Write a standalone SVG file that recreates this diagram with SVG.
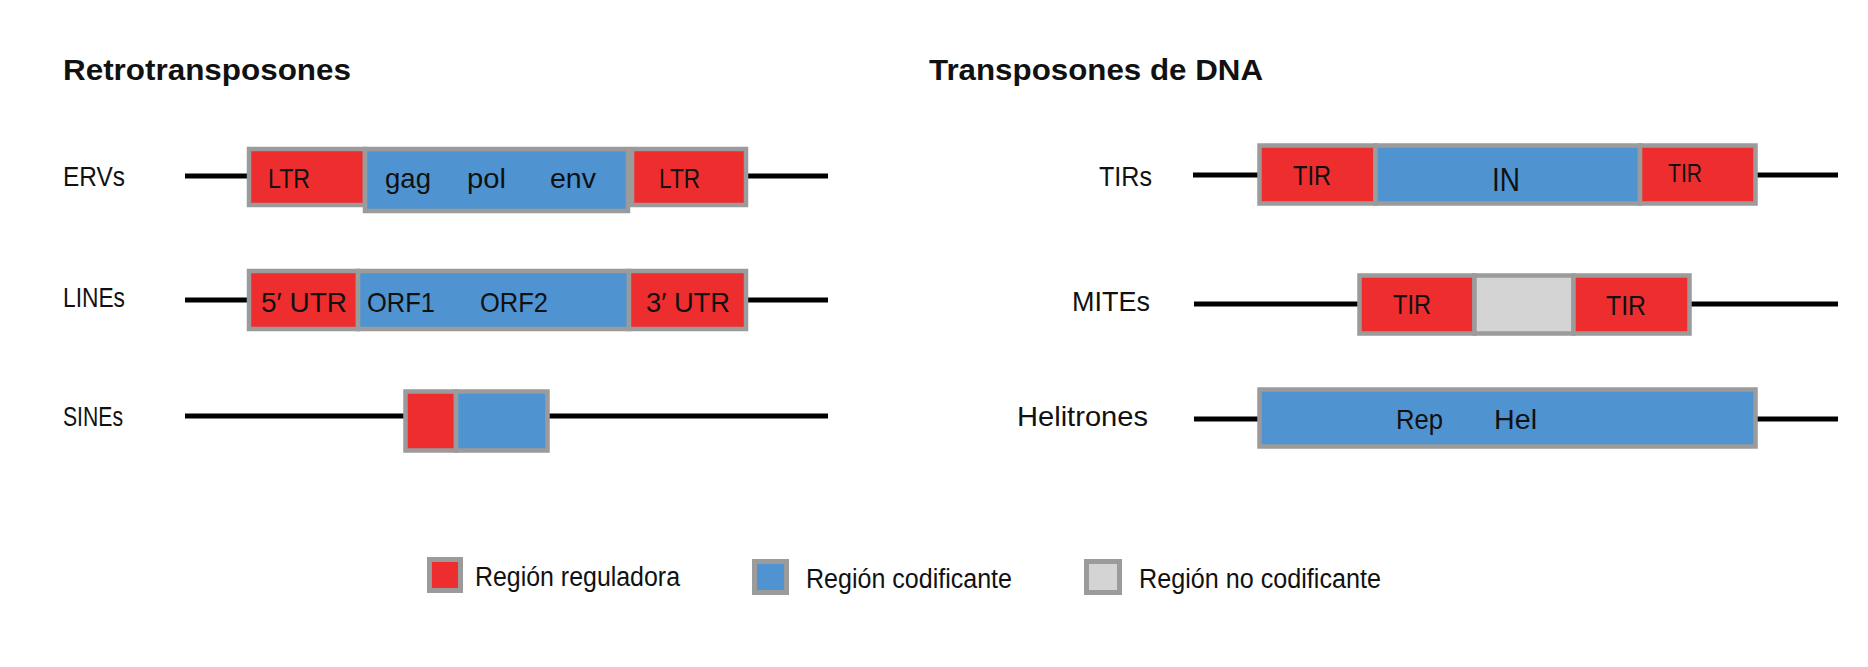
<svg xmlns="http://www.w3.org/2000/svg" width="1868" height="667" viewBox="0 0 1868 667">
<style>
  .bg{fill:#ffffff}
  .t{font-family:"Liberation Sans",Arial,sans-serif;fill:#111111}
  .title{font-size:29px;font-weight:bold}
  .lab{font-size:28px}
  .in{font-size:28px}
  .leg{font-size:27px}
  .reg{fill:#EE2D2E;stroke:#9B9B9B;stroke-width:4.5}
  .cod{fill:#4F94D0;stroke:#9B9B9B;stroke-width:4.5}
  .nc{fill:#D4D4D4;stroke:#9B9B9B;stroke-width:4.5}
  .sw{stroke-width:5}
  .dna{stroke:#000000;stroke-width:5;fill:none}
</style>
<rect class="bg" x="0" y="0" width="1868" height="667"/>

<g id="titles">
  <text class="t title" x="63" y="80" textLength="288" lengthAdjust="spacingAndGlyphs">Retrotransposones</text>
  <text class="t title" x="929" y="80" textLength="334" lengthAdjust="spacingAndGlyphs">Transposones de DNA</text>
</g>

<g id="connectors">
  <line class="dna" x1="185" y1="176" x2="828" y2="176"/>
  <line class="dna" x1="185" y1="300" x2="828" y2="300"/>
  <line class="dna" x1="185" y1="416" x2="828" y2="416"/>
  <line class="dna" x1="1193" y1="175" x2="1838" y2="175"/>
  <line class="dna" x1="1194" y1="304" x2="1838" y2="304"/>
  <line class="dna" x1="1194" y1="419" x2="1838" y2="419"/>
</g>

<g id="ERVs">
  <text class="t lab" x="63" y="186" textLength="62" lengthAdjust="spacingAndGlyphs">ERVs</text>
  <rect class="reg" x="249" y="149" width="116" height="56"/>
  <rect class="reg" x="632" y="149" width="114" height="56"/>
  <rect class="cod" x="365" y="149" width="263" height="62"/>
  <text class="t in" x="268" y="188" textLength="42" lengthAdjust="spacingAndGlyphs">LTR</text>
  <text class="t in" x="385" y="188" textLength="46" lengthAdjust="spacingAndGlyphs">gag</text>
  <text class="t in" x="467" y="188" textLength="39" lengthAdjust="spacingAndGlyphs">pol</text>
  <text class="t in" x="550" y="188" textLength="46" lengthAdjust="spacingAndGlyphs">env</text>
  <text class="t in" x="659" y="188" textLength="41" lengthAdjust="spacingAndGlyphs">LTR</text>
</g>

<g id="LINEs">
  <text class="t lab" x="63" y="307" textLength="62" lengthAdjust="spacingAndGlyphs">LINEs</text>
  <rect class="reg" x="249" y="271" width="109" height="58"/>
  <rect class="cod" x="358" y="271" width="271" height="58"/>
  <rect class="reg" x="629" y="271" width="117" height="58"/>
  <text class="t in" x="261" y="312" textLength="86" lengthAdjust="spacingAndGlyphs">5′ UTR</text>
  <text class="t in" x="367" y="312" textLength="68" lengthAdjust="spacingAndGlyphs">ORF1</text>
  <text class="t in" x="480" y="312" textLength="68" lengthAdjust="spacingAndGlyphs">ORF2</text>
  <text class="t in" x="646" y="312" textLength="84" lengthAdjust="spacingAndGlyphs">3′ UTR</text>
</g>

<g id="SINEs">
  <text class="t lab" x="63" y="426" textLength="60" lengthAdjust="spacingAndGlyphs">SINEs</text>
  <rect class="reg" x="405.5" y="391.5" width="50.5" height="59"/>
  <rect class="cod" x="456" y="391.5" width="91.5" height="59"/>
</g>

<g id="TIRs">
  <text class="t lab" x="1099" y="186" textLength="53" lengthAdjust="spacingAndGlyphs">TIRs</text>
  <rect class="reg" x="1259.5" y="145.5" width="116" height="58"/>
  <rect class="cod" x="1375.5" y="145.5" width="264.5" height="58"/>
  <rect class="reg" x="1640" y="145.5" width="115.5" height="58"/>
  <text class="t in" x="1293" y="185" textLength="38" lengthAdjust="spacingAndGlyphs">TIR</text>
  <text class="t" style="font-size:33px" x="1492" y="191" textLength="28" lengthAdjust="spacingAndGlyphs">IN</text>
  <text class="t" style="font-size:25px" x="1668" y="182" textLength="34" lengthAdjust="spacingAndGlyphs">TIR</text>
</g>

<g id="MITEs">
  <text class="t lab" x="1072" y="311" textLength="78" lengthAdjust="spacingAndGlyphs">MITEs</text>
  <rect class="reg" x="1359.5" y="275.5" width="115" height="58"/>
  <rect class="nc" x="1474.5" y="275.5" width="99" height="58"/>
  <rect class="reg" x="1573.5" y="275.5" width="116" height="58"/>
  <text class="t in" x="1393" y="314" textLength="38" lengthAdjust="spacingAndGlyphs">TIR</text>
  <text class="t in" x="1606" y="315" textLength="40" lengthAdjust="spacingAndGlyphs">TIR</text>
</g>

<g id="Helitrones">
  <text class="t lab" x="1017" y="426" textLength="131" lengthAdjust="spacingAndGlyphs">Helitrones</text>
  <rect class="cod" x="1259.5" y="389.5" width="496" height="57"/>
  <text class="t in" x="1396" y="429" textLength="47" lengthAdjust="spacingAndGlyphs">Rep</text>
  <text class="t in" x="1494" y="429" textLength="43" lengthAdjust="spacingAndGlyphs">Hel</text>
</g>

<g id="legend">
  <g id="leg-reg">
    <rect class="reg sw" x="429.5" y="559.5" width="31" height="31"/>
    <text class="t leg" x="475" y="586" textLength="205" lengthAdjust="spacingAndGlyphs">Región reguladora</text>
  </g>
  <g id="leg-cod">
    <rect class="cod sw" x="754.5" y="561.5" width="32" height="31"/>
    <text class="t leg" x="806" y="588" textLength="206" lengthAdjust="spacingAndGlyphs">Región codificante</text>
  </g>
  <g id="leg-nc">
    <rect class="nc sw" x="1086.5" y="561.5" width="33" height="31"/>
    <text class="t leg" x="1139" y="588" textLength="242" lengthAdjust="spacingAndGlyphs">Región no codificante</text>
  </g>
</g>
</svg>
